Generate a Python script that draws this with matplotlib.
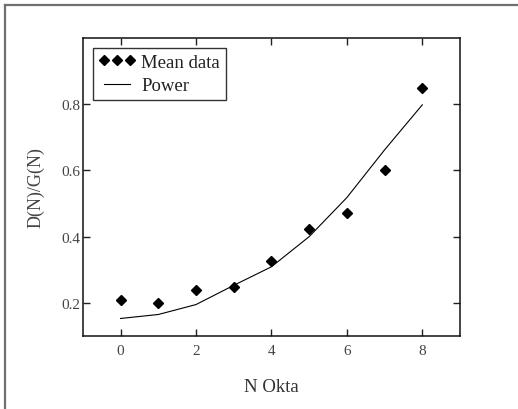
import matplotlib
matplotlib.use("Agg")
import matplotlib.pyplot as plt
from matplotlib.lines import Line2D

plt.rcParams['font.family'] = ['Liberation Serif', 'DejaVu Serif']

# Cloud cover in okta and the mean ratio D(N)/G(N)
okta = [0, 1, 2, 3, 4, 5, 6, 7, 8]
mean_ratio = [0.210, 0.200, 0.239, 0.247, 0.327, 0.423, 0.472, 0.602, 0.850]
# Power-law fit evaluated at each okta value
power_fit = [0.153, 0.165, 0.195, 0.253, 0.309, 0.400, 0.518, 0.662, 0.798]

x_ticks = [0, 2, 4, 6, 8]
y_ticks = [0.2, 0.4, 0.6, 0.8]

fig = plt.figure(figsize=(5.18, 4.10), dpi=100)
ax = fig.add_axes([0.160, 0.178, 0.728, 0.727])

ax.plot(okta, mean_ratio, linestyle='none', marker='D', markersize=5.4,
        color='black', label='Mean data')
ax.plot(okta, power_fit, color='black', linewidth=0.8, label='Power')

ax.set_xlim(-1, 9)
ax.set_ylim(0.1, 1.0)
ax.set_xticks(x_ticks)
ax.set_yticks(y_ticks)
ax.set_xticklabels([str(v) for v in x_ticks])
ax.set_yticklabels([f"{v:.1f}" for v in y_ticks])

ax.tick_params(direction='in', length=5, width=1, top=True, right=True,
               labelsize=11, labelcolor='#444444', color='#222222')
ax.tick_params(axis='x', pad=6)
ax.tick_params(axis='y', pad=2)
for sp in ax.spines.values():
    sp.set_linewidth(1.1)
    sp.set_color('#111111')

ax.set_xlabel('N Okta', fontsize=13.5, color='#333333', labelpad=15)
ax.set_ylabel('D(N)/G(N)', fontsize=13, color='#444444', labelpad=12)

leg = ax.legend(loc='upper left', bbox_to_anchor=(0.026, 0.967), numpoints=3,
                fontsize=13.5, frameon=True, fancybox=False, handlelength=2.0,
                handletextpad=0.3, borderpad=0.3, labelspacing=0.35,
                borderaxespad=0.0)
leg.get_frame().set_edgecolor('black')
leg.get_frame().set_linewidth(1.0)
for t in leg.get_texts():
    t.set_color('#222222')

# Gray border along the left and top of the figure
fig.add_artist(Line2D([0.0095, 0.0095], [0.0, 0.985], transform=fig.transFigure,
                      color='#707070', linewidth=1.6))
fig.add_artist(Line2D([0.0095, 1.0], [0.985, 0.985], transform=fig.transFigure,
                      color='#707070', linewidth=1.6))

fig.savefig('out.png', dpi=100)
